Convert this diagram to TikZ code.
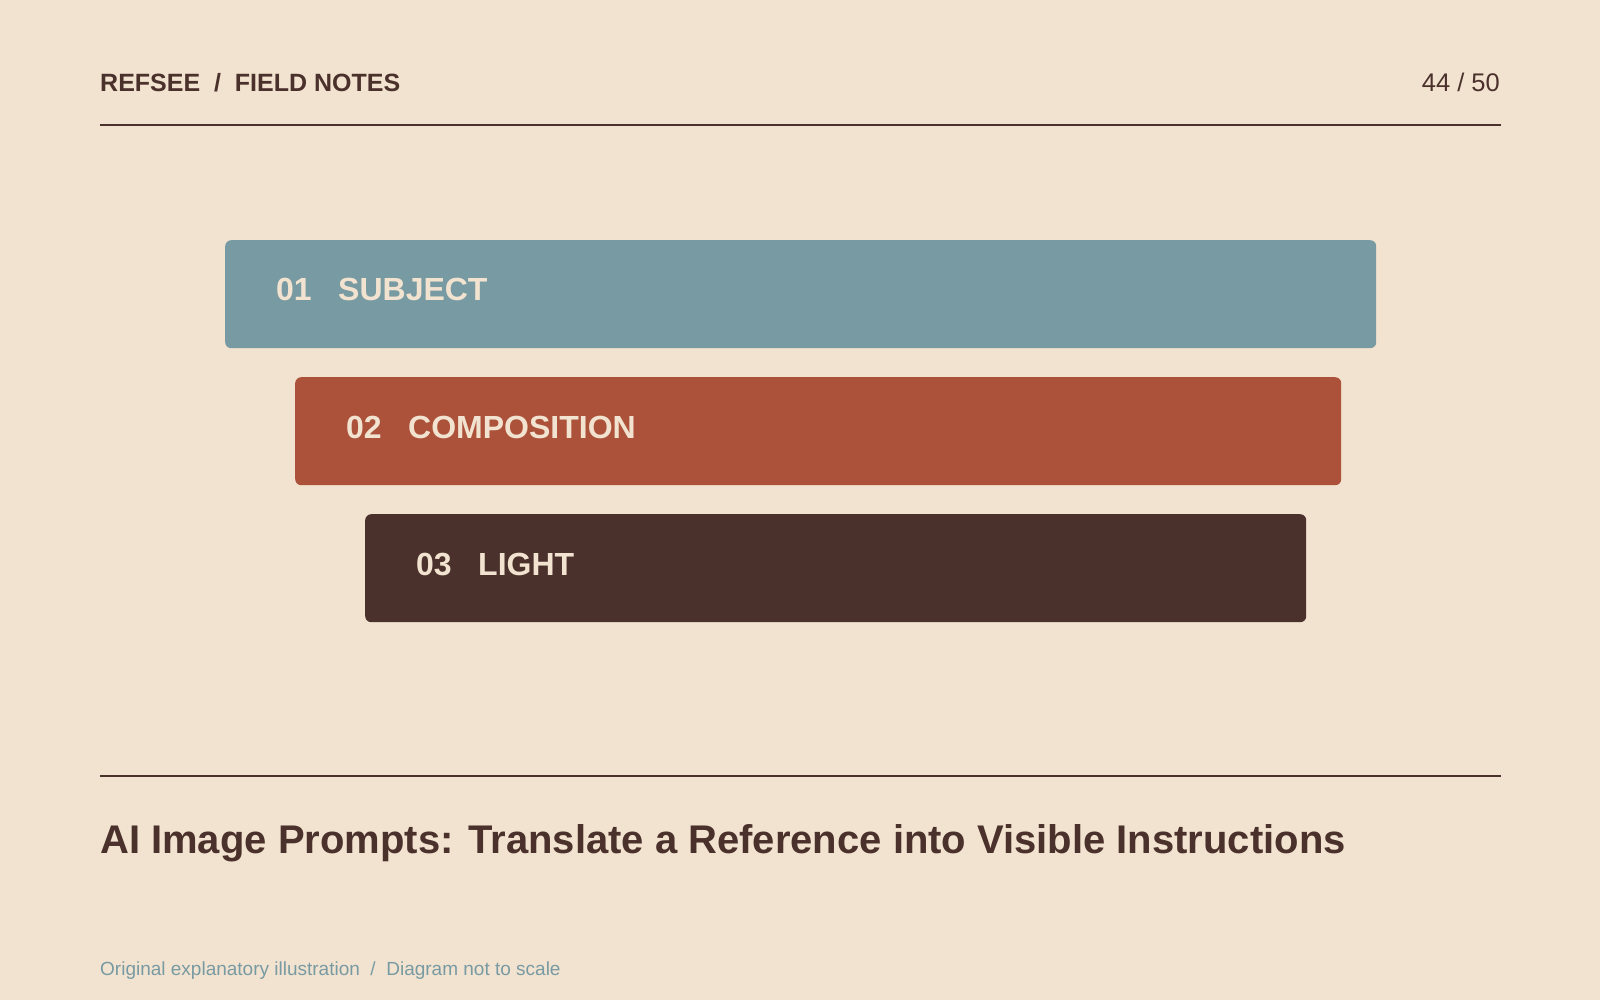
\documentclass[tikz,border=0pt]{standalone}
\usepackage{fontspec}
\setmainfont{Liberation Sans}
\usetikzlibrary{positioning}
\definecolor{paper}{HTML}{F2E3D0}
\definecolor{ink}{HTML}{4B312C}
\definecolor{slate}{HTML}{789AA2}
\definecolor{rust}{HTML}{AC523B}
\definecolor{cream}{HTML}{F2E3D0}
\tikzset{
  bar/.style={rectangle,rounded corners=6pt,inner sep=0pt,anchor=north west,minimum height=108pt},
  barnum/.style={anchor=base west,inner sep=0pt,text=cream,font=\fontsize{32}{36}\selectfont\bfseries},
  head/.style={anchor=base west,inner sep=0pt,text=ink,font=\fontsize{25}{30}\selectfont\bfseries},
  rule/.style={draw=ink,line width=2pt}
}
\begin{document}
\begin{tikzpicture}[x=1pt,y=-1pt]
          \fill[paper] (0,0) rectangle (1600,1000);
          \useasboundingbox (0,0) rectangle (1600,1000);

          % header
          \node[head] (brand) at (100,91.5) {REFSEE\ \ /\ \ FIELD NOTES};
          \node[head,anchor=base east,font=\fontsize{25.5}{30}\selectfont] (page) at (1500,91.5) {44 / 50};
          \coordinate (topl) at (100,125.5);
          \coordinate (topr) at (1501,125.5);
          \draw[rule] (topl) -- (topr);

          % bars
          \node[bar,fill=slate,minimum width=1151pt] (subject) at (225,240) {};
          \node[bar,fill=rust,minimum width=1046pt] (composition) at (295,377) {};
          \node[bar,fill=ink,minimum width=941pt] (light) at (365,514) {};

          \node[barnum] (n1) at ([xshift=51pt,yshift=-61pt]subject.north west) {01};
          \node[barnum] (t1) at ([xshift=113pt,yshift=-61pt]subject.north west) {SUBJECT};
          \node[barnum] (n2) at ([xshift=51pt,yshift=-61pt]composition.north west) {02};
          \node[barnum] (t2) at ([xshift=113pt,yshift=-61pt]composition.north west) {COMPOSITION};
          \node[barnum] (n3) at ([xshift=51pt,yshift=-61pt]light.north west) {03};
          \node[barnum] (t3) at ([xshift=113pt,yshift=-61pt]light.north west) {LIGHT};

          % footer
          \coordinate (botl) at (100,775.5);
          \coordinate (botr) at (1501,775.5);
          \draw[rule] (botl) -- (botr);
          \node[head,font=\fontsize{40}{46}\selectfont\bfseries] (title) at (100,853) {AI Image Prompts: Translate a Reference into Visible Instructions};
          \node[head,text=slate,font=\fontsize{19}{22}\selectfont] (note) at (100,975.5) {Original explanatory illustration\ \ /\ \ Diagram not to scale};
        \end{tikzpicture}
\end{document}
